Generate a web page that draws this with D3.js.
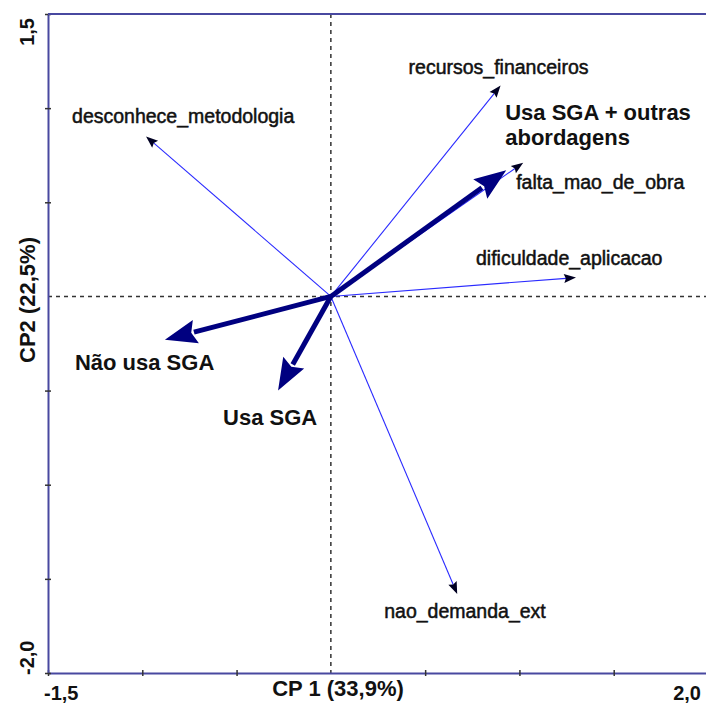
<!DOCTYPE html>
<html>
<head>
<meta charset="utf-8">
<script src="https://cdn.jsdelivr.net/npm/d3@7"></script>
<style>
  body { margin: 0; background: #fff; }
  svg { display: block; font-family: "Liberation Sans", Arial, sans-serif; }
</style>
</head>
<body>
<svg id="chart"></svg>
<script>
// variaveis (setas finas)
const variaveis = ['recursos_financeiros', 'desconhece_metodologia', 'falta_mao_de_obra', 'dificuldade_aplicacao', 'nao_demanda_ext']
const cp1Var = [0.90, -0.98, 1.02, 1.30, 0.67]
const cp2Var = [1.12, 0.85, 0.71, 0.10, -1.58]

// grupos (setas grossas)
const grupos = ['Não usa SGA', 'Usa SGA', 'Usa SGA + outras abordagens']
const grupoLinhas = [['Não usa SGA'], ['Usa SGA'], ['Usa SGA + outras', 'abordagens']]
const cp1Grp = [-0.88, -0.28, 0.93]
const cp2Grp = [-0.23, -0.50, 0.67]

const xTicks = [-1.5, -1, -0.5, 0, 0.5, 1, 1.5, 2]
const yTicks = [-2, -1.5, -1, -0.5, 0, 0.5, 1, 1.5]
const xTickLabels = ['-1,5', '2,0']
const yTickLabels = ['-2,0', '1,5']
const xTitle = 'CP 1 (33,9%)'
const yTitle = 'CP2 (22,5%)'

// label offsets (px) from the arrow tip
const varOffsets = [[-92, -12], [-74, -13], [-7, 26], [-100, -13], [-73, 24]]
const grpOffsets = [[-90, 30], [-55, 34], [-1, -50]]

const W = 706, H = 705

const x = d3.scaleLinear().domain([-1.5, 2]).range([48, 708])
const y = d3.scaleLinear().domain([-2, 1.5]).range([673, 14])

const svg = d3.select('#chart').attr('width', W).attr('height', H)

const axisColor = '#4848a0'

// dashed reference lines
svg.append('line')
  .attr('x1', x(0)).attr('x2', x(0)).attr('y1', y(1.5)).attr('y2', y(-2))
  .attr('stroke', '#333').attr('stroke-width', 1.5).attr('stroke-dasharray', '4,4')
svg.append('line')
  .attr('x1', x(-1.5)).attr('x2', x(2)).attr('y1', y(0)).attr('y2', y(0))
  .attr('stroke', '#333').attr('stroke-width', 1.5).attr('stroke-dasharray', '4,4')

// axes
const xAxis = svg.append('g')
  .attr('transform', `translate(0,${y(-2)})`)
  .call(d3.axisBottom(x).tickValues(xTicks).tickSize(0).tickFormat(''))
xAxis.select('.domain').attr('stroke', axisColor).attr('stroke-width', 2)
xAxis.selectAll('.tick line').attr('y1', -3).attr('y2', 3).attr('stroke', '#333').attr('stroke-width', 1.5)
xAxis.selectAll('.tick').filter(d => d === 0).select('line').remove()

const yAxis = svg.append('g')
  .attr('transform', `translate(${x(-1.5)},0)`)
  .call(d3.axisLeft(y).tickValues(yTicks).tickSize(0).tickFormat(''))
yAxis.select('.domain').attr('stroke', axisColor).attr('stroke-width', 2)
yAxis.selectAll('.tick line').attr('x1', -3).attr('x2', 3).attr('stroke', '#333').attr('stroke-width', 1.5)
yAxis.selectAll('.tick').filter(d => d === 0).select('line').remove()

// top border
svg.append('line')
  .attr('x1', x(-1.5)).attr('x2', W).attr('y1', y(1.5)).attr('y2', y(1.5))
  .attr('stroke', axisColor).attr('stroke-width', 2)

// tick labels at the ends
svg.append('text').attr('x', x(-1.5) - 4).attr('y', 700)
  .attr('font-size', 20).attr('font-weight', 'bold').attr('fill', '#111').text(xTickLabels[0])
svg.append('text').attr('x', x(2) - 7).attr('y', 700).attr('text-anchor', 'end')
  .attr('font-size', 20).attr('font-weight', 'bold').attr('fill', '#111').text(xTickLabels[1])
svg.append('text').attr('transform', `translate(34,${y(-2) + 2}) rotate(-90)`)
  .attr('font-size', 20).attr('font-weight', 'bold').attr('fill', '#111').text(yTickLabels[0])
svg.append('text').attr('transform', `translate(34,${y(1.5) + 4}) rotate(-90)`).attr('text-anchor', 'end')
  .attr('font-size', 20).attr('font-weight', 'bold').attr('fill', '#111').text(yTickLabels[1])

// axis titles
svg.append('text').attr('x', 338).attr('y', 696).attr('text-anchor', 'middle')
  .attr('font-size', 22).attr('font-weight', 'bold').attr('fill', '#111').text(xTitle)
svg.append('text').attr('transform', `translate(35,300) rotate(-90)`).attr('text-anchor', 'middle')
  .attr('font-size', 22).attr('font-weight', 'bold').attr('fill', '#111').text(yTitle)

// arrow helper
function arrow(g, x1, y1, tx, ty, len, half, lineColor, headColor, lw) {
  const dx = tx - x1, dy = ty - y1
  const d = Math.sqrt(dx * dx + dy * dy)
  const ux = dx / d, uy = dy / d
  const bx = tx - ux * len, by = ty - uy * len
  g.append('line')
    .attr('x1', x1).attr('y1', y1).attr('x2', bx + ux * 2).attr('y2', by + uy * 2)
    .attr('stroke', lineColor).attr('stroke-width', lw)
  g.append('path')
    .attr('d', `M${tx},${ty}L${bx - uy * half},${by + ux * half}L${bx + ux * len * 0.15},${by + uy * len * 0.15}L${bx + uy * half},${by - ux * half}Z`)
    .attr('fill', headColor)
}

const ox = x(0), oy = y(0)

// thin variable arrows
const gVar = svg.append('g')
variaveis.forEach((v, i) => {
  arrow(gVar, ox, oy, x(cp1Var[i]), y(cp2Var[i]), 12, 4.5, '#2a2aff', '#000022', 1.1)
})

// thick group arrows
const gGrp = svg.append('g')
grupos.forEach((g, i) => {
  arrow(gGrp, ox, oy, x(cp1Grp[i]), y(cp2Grp[i]), 32, 12, '#000080', '#000080', 5)
})

// variable labels
variaveis.forEach((v, i) => {
  svg.append('text')
    .attr('x', x(cp1Var[i]) + varOffsets[i][0])
    .attr('y', y(cp2Var[i]) + varOffsets[i][1])
    .attr('font-size', 19.5)
    .attr('fill', '#111')
    .attr('stroke', '#111').attr('stroke-width', 0.5)
    .text(v)
})

// group labels
grupos.forEach((g, i) => {
  const t = svg.append('text')
    .attr('x', x(cp1Grp[i]) + grpOffsets[i][0])
    .attr('y', y(cp2Grp[i]) + grpOffsets[i][1])
    .attr('font-size', 22)
    .attr('font-weight', 'bold')
    .attr('fill', '#111')
  grupoLinhas[i].forEach((ln, j) => {
    t.append('tspan')
      .attr('x', x(cp1Grp[i]) + grpOffsets[i][0])
      .attr('dy', j === 0 ? 0 : 25)
      .text(ln)
  })
})
</script>
</body>
</html>
